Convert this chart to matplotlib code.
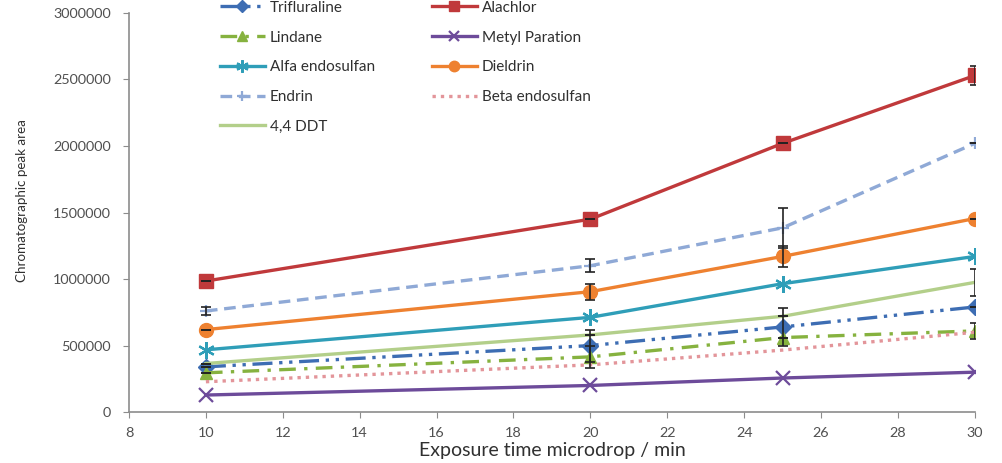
import matplotlib.pyplot as plt
import numpy as np

plt.rcParams['font.family'] = ['Lato', 'DejaVu Sans']

times = [10, 20, 25, 30]

trifluraline = [340000, 500000, 640000, 790000]
alachlor = [985000, 1450000, 2020000, 2530000]
lindane = [295000, 415000, 560000, 610000]
metyl_paration = [128000, 200000, 256000, 300000]
alfa_endosulfan = [468000, 712000, 965000, 1170000]
dieldrin = [620000, 905000, 1170000, 1455000]
endrin = [760000, 1100000, 1385000, 2020000]
beta_endosulfan = [228000, 355000, 466000, 600000]
ddt = [365000, 580000, 720000, 975000]

# error bars (only those visible in the figure)
err_trifluraline = [0, 120000, 140000, 0]
err_alachlor = [0, 0, 0, 75000]
err_lindane = [0, 80000, 0, 60000]
err_dieldrin = [0, 60000, 80000, 0]
err_endrin = [30000, 50000, 150000, 0]
err_ddt = [0, 0, 0, 100000]

series = [
    ('Trifluraline', trifluraline, err_trifluraline, '#3d6db3', (0, (6, 2, 1, 2, 1, 2)), 'D', 8),
    ('Lindane', lindane, err_lindane, '#86b23f', (0, (5, 2.5, 1, 2.5)), '^', 9),
    ('Alfa endosulfan', alfa_endosulfan, None, '#2f9eb8', '-', (6, 2, 0), 12),
    ('Endrin', endrin, err_endrin, '#8fa9d6', (0, (3.5, 2)), '+', 9),
    ('4,4 DDT', ddt, err_ddt, '#b3cf8a', '-', None, 0),
    ('Alachlor', alachlor, err_alachlor, '#c0393b', '-', 's', 10),
    ('Metyl Paration', metyl_paration, None, '#6d4b9a', '-', 'x', 10),
    ('Dieldrin', dieldrin, err_dieldrin, '#ee8130', '-', 'o', 10),
    ('Beta endosulfan', beta_endosulfan, None, '#e3959a', (0, (1, 1.5)), None, 0),
]

fig = plt.figure(figsize=(10.03, 4.63), dpi=100)
ax = fig.add_axes([0.1286, 0.110, 0.8434, 0.862])

handles = []
for name, vals, err, color, ls, mk, ms in series:
    if err is not None:
        ax.errorbar(times, vals, yerr=err, fmt='none', ecolor='#222222',
                    elinewidth=1.2, capsize=3.5, capthick=1.2, zorder=4)
    h, = ax.plot(times, vals, color=color, linestyle=ls, linewidth=2.4,
                 marker=mk, markersize=ms,
                 markeredgewidth=1.6 if mk in ('x', '+', (6, 2, 0)) else 1,
                 label=name, zorder=3)
    handles.append(h)

ax.set_xlim(8, 30)
ax.set_ylim(0, 3000000)
ax.set_xticks(np.arange(8, 31, 2))
ax.set_yticks(np.arange(0, 3000001, 500000))
ax.ticklabel_format(style='plain', axis='y')

for s in ['top', 'right']:
    ax.spines[s].set_visible(False)
for s in ['left', 'bottom']:
    ax.spines[s].set_color('#8c8c8c')
    ax.spines[s].set_linewidth(1.2)
ax.tick_params(axis='both', colors='#8c8c8c', labelcolor='#505050', labelsize=10.4, length=4)
ax.tick_params(axis='x', pad=7)
ax.tick_params(axis='y', pad=9)

ax.set_xlabel('Exposure time microdrop / min', fontsize=14, color='#303030', labelpad=2)
ax.set_ylabel('Chromatographic peak area', fontsize=9.6, color='#303030')
ax.yaxis.set_label_coords(-0.119, 0.531)

leg = fig.legend(handles=handles, ncol=2, loc='upper left',
                 bbox_to_anchor=(0.2055, 1.028), frameon=False,
                 fontsize=11, handlelength=2.95, columnspacing=3.7,
                 labelspacing=1.03, handletextpad=0.33, markerscale=0.75)
for t in leg.get_texts():
    t.set_color('#303030')

fig.savefig('out.png', dpi=100)
